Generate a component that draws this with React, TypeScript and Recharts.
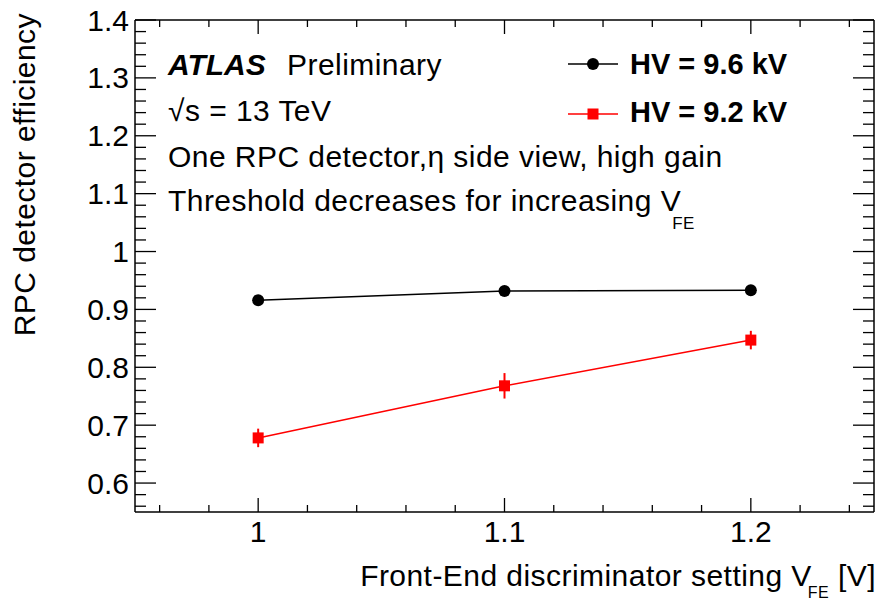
import { ComposedChart, Line, XAxis, YAxis, ErrorBar } from 'recharts';

const VFE = [1, 1.1, 1.2];
const EFF_HV96 = [0.916, 0.932, 0.933];
const ERR_HV96 = [0.004, 0.004, 0.004];
const EFF_HV92 = [0.678, 0.768, 0.847];
const ERR_HV92 = [0.016, 0.022, 0.016];

const SERIES_NAMES = ['HV = 9.6 kV', 'HV = 9.2 kV'];
const COLORS = { hv96: '#000000', hv92: '#ff0000' };

const X_DOMAIN = [0.95, 1.25];
const Y_DOMAIN = [0.55, 1.4];
// ticks every 0.02, labelled every 0.1
const X_TICKS = Array.from({ length: 15 }, (_, i) => (96 + 2 * i) / 100);
const Y_TICKS = Array.from({ length: 43 }, (_, i) => (56 + 2 * i) / 100);

const FONT = '"Liberation Sans", Arial, Helvetica, sans-serif';
const FS = 30;
const LS = 0.45;

const data = VFE.map((v, i) => ({
  vfe: v,
  hv96: EFF_HV96[i],
  err96: ERR_HV96[i],
  hv92: EFF_HV92[i],
  err92: ERR_HV92[i],
}));

const isMajor = (v: number) => Math.round(v * 100) % 10 === 0;
const fmt = (v: number) => String(Math.round(v * 10) / 10);

function BottomTick({ x, y, payload }: any) {
  const major = isMajor(payload.value);
  return (
    <g>
      <line x1={x} x2={x} y1={y} y2={y - (major ? 14 : 7)} stroke="#000" strokeWidth={1.3} />
      {major && (
        <text x={x} y={y + 30} textAnchor="middle" fontSize={FS} fontFamily={FONT} fill="#000">
          {fmt(payload.value)}
        </text>
      )}
    </g>
  );
}

function TopTick({ x, y, payload }: any) {
  const major = isMajor(payload.value);
  return <line x1={x} x2={x} y1={y} y2={y + (major ? 14 : 7)} stroke="#000" strokeWidth={1.3} />;
}

function LeftTick({ x, y, payload }: any) {
  const major = isMajor(payload.value);
  return (
    <g>
      <line x1={x} x2={x + (major ? 21 : 11)} y1={y} y2={y} stroke="#000" strokeWidth={1.3} />
      {major && (
        <text x={x - 6} y={y + 10.5} textAnchor="end" fontSize={FS} fontFamily={FONT} fill="#000">
          {fmt(payload.value)}
        </text>
      )}
    </g>
  );
}

function RightTick({ x, y, payload }: any) {
  const major = isMajor(payload.value);
  return <line x1={x} x2={x - (major ? 21 : 11)} y1={y} y2={y} stroke="#000" strokeWidth={1.3} />;
}

const circleDot = (p: any) => (
  <circle key={`c${p.index}`} cx={p.cx} cy={p.cy} r={6} fill={COLORS.hv96} />
);
const squareDot = (p: any) => (
  <rect key={`s${p.index}`} x={p.cx - 5.5} y={p.cy - 5.5} width={11} height={11} fill={COLORS.hv92} />
);

function Overlay() {
  return (
    <svg
      width={880}
      height={603}
      style={{ position: 'absolute', left: 0, top: 0, pointerEvents: 'none' }}
      fontFamily={FONT}
    >
      {/* axis titles */}
      <text
        x={35}
        y={13}
        transform="rotate(-90, 35, 13)"
        textAnchor="end"
        fontSize={FS}
        letterSpacing={LS}
        fill="#000"
      >
        RPC detector efficiency
      </text>
      <text x={876} y={586} textAnchor="end" fontSize={FS} letterSpacing={LS} fill="#000">
        Front-End discriminator setting V
        <tspan dx={-4} dy={12} fontSize={16}>FE</tspan>
        <tspan dy={-12}> [V]</tspan>
      </text>

      {/* annotations */}
      <text x={168} y={75} fontSize={FS} fontWeight="bold" fontStyle="italic" fill="#000">
        ATLAS
      </text>
      <text x={287} y={75} fontSize={FS} letterSpacing={LS} fill="#000">
        Preliminary
      </text>
      <text x={168} y={121} fontSize={FS} letterSpacing={LS} fill="#000">
        √s = 13 TeV
      </text>
      <text x={168} y={167} fontSize={FS} letterSpacing={LS} fill="#000">
        One RPC detector,η side view, high gain
      </text>
      <text x={168} y={211} fontSize={FS} letterSpacing={LS} fill="#000">
        Threshold decreases for increasing V
        <tspan dx={-9} dy={18} fontSize={17}>FE</tspan>
      </text>

      {/* legend */}
      <line x1={568} x2={618} y1={64} y2={64} stroke={COLORS.hv96} strokeWidth={1.5} />
      <circle cx={593} cy={64} r={6} fill={COLORS.hv96} />
      <text x={630} y={73.5} fontSize={FS - 1} fontWeight="bold" fill="#000">
        {SERIES_NAMES[0]}
      </text>
      <line x1={568} x2={618} y1={114} y2={114} stroke={COLORS.hv92} strokeWidth={1.5} />
      <rect x={587.5} y={108.5} width={11} height={11} fill={COLORS.hv92} />
      <text x={630} y={122} fontSize={FS - 1} fontWeight="bold" fill="#000">
        {SERIES_NAMES[1]}
      </text>
    </svg>
  );
}

export default function App() {
  return (
    <div style={{ position: 'absolute', left: 0, top: 0, width: 880, height: 603, background: '#fff' }}>
      <ComposedChart width={880} height={603} data={data} margin={{ top: 19, right: 5, bottom: 90, left: 134 }}>
        <XAxis
          dataKey="vfe"
          type="number"
          domain={X_DOMAIN}
          ticks={X_TICKS}
          interval={0}
          height={1}
          tickSize={0}
          tickMargin={0}
          tickLine={false}
          tick={<BottomTick />}
          axisLine={{ stroke: '#000', strokeWidth: 1.5 }}
          allowDataOverflow
        />
        <XAxis
          xAxisId="top"
          orientation="top"
          dataKey="vfe"
          type="number"
          domain={X_DOMAIN}
          ticks={X_TICKS}
          interval={0}
          height={1}
          tickSize={0}
          tickMargin={0}
          tickLine={false}
          tick={<TopTick />}
          axisLine={{ stroke: '#000', strokeWidth: 1.5 }}
          allowDataOverflow
        />
        <YAxis
          type="number"
          domain={Y_DOMAIN}
          ticks={Y_TICKS}
          interval={0}
          width={1}
          tickSize={0}
          tickMargin={0}
          tickLine={false}
          tick={<LeftTick />}
          axisLine={{ stroke: '#000', strokeWidth: 1.5 }}
          allowDataOverflow
        />
        <YAxis
          yAxisId="right"
          orientation="right"
          type="number"
          domain={Y_DOMAIN}
          ticks={Y_TICKS}
          interval={0}
          width={1}
          tickSize={0}
          tickMargin={0}
          tickLine={false}
          tick={<RightTick />}
          axisLine={{ stroke: '#000', strokeWidth: 1.5 }}
          allowDataOverflow
        />
        <Line
          dataKey="hv96"
          name={SERIES_NAMES[0]}
          stroke={COLORS.hv96}
          strokeWidth={1.5}
          type="linear"
          dot={circleDot}
          activeDot={false}
          isAnimationActive={false}
        >
          <ErrorBar dataKey="err96" width={0} stroke={COLORS.hv96} strokeWidth={2} direction="y" />
        </Line>
        <Line
          dataKey="hv92"
          name={SERIES_NAMES[1]}
          stroke={COLORS.hv92}
          strokeWidth={1.5}
          type="linear"
          dot={squareDot}
          activeDot={false}
          isAnimationActive={false}
        >
          <ErrorBar dataKey="err92" width={0} stroke={COLORS.hv92} strokeWidth={2} direction="y" />
        </Line>
      </ComposedChart>
      <Overlay />
    </div>
  );
}
